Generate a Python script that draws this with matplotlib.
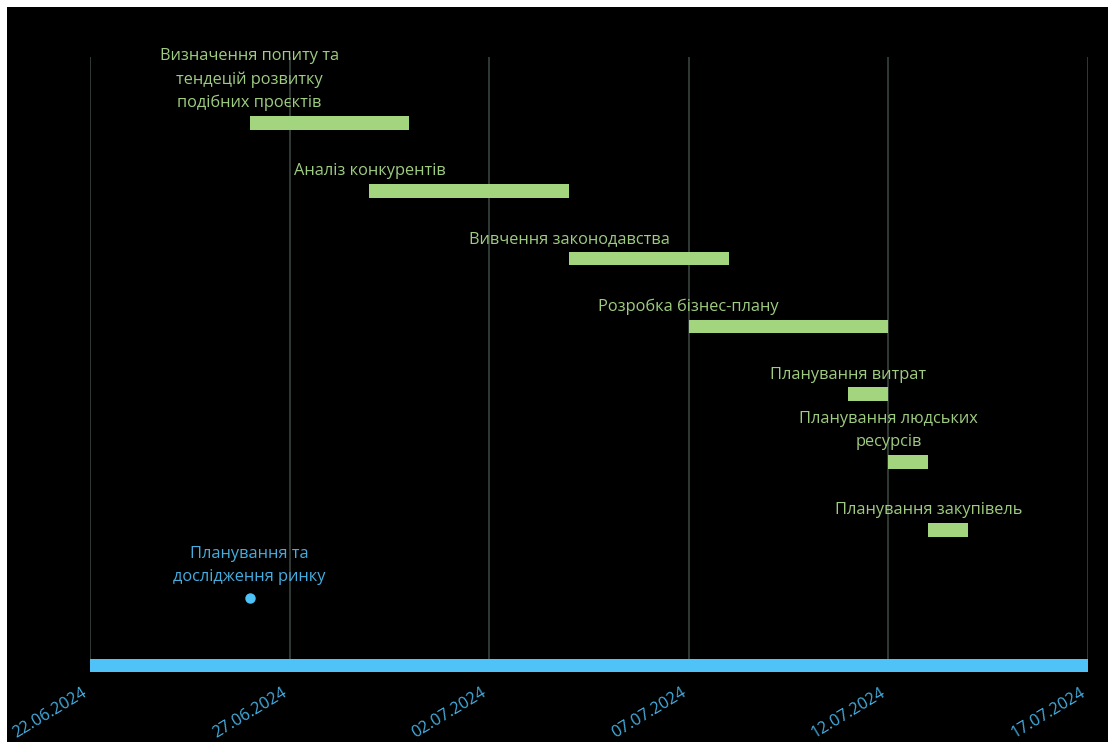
import matplotlib
matplotlib.use("Agg")
import matplotlib.pyplot as plt
import matplotlib.dates as mdates
from matplotlib.patches import Rectangle
from datetime import datetime

# Project schedule
tasks = [
    "Визначення попиту та\nтендецій розвитку\nподібних проєктів",
    "Аналіз конкурентів",
    "Вивчення законодавства",
    "Розробка бізнес-плану",
    "Планування витрат",
    "Планування людських\nресурсів",
    "Планування закупівель",
]
task_starts = ["26.06.2024", "29.06.2024", "04.07.2024", "07.07.2024",
               "11.07.2024", "12.07.2024", "13.07.2024"]
task_ends = ["30.06.2024", "04.07.2024", "08.07.2024", "12.07.2024",
             "12.07.2024", "13.07.2024", "14.07.2024"]

milestone_label = "Планування та\nдослідження ринку"
milestone_date = "26.06.2024"

timeline_start = "22.06.2024"
timeline_end = "17.07.2024"
tick_labels = ["22.06.2024", "27.06.2024", "02.07.2024",
               "07.07.2024", "12.07.2024", "17.07.2024"]

GREEN = "#A3D57F"
GREEN_TEXT = "#9FCC80"
BLUE = "#4FC3F7"
BLUE_TEXT = "#45ADE0"
GRID = "#3B4B42"
FONT = ["Open Sans", "DejaVu Sans"]
FS = 11.8


def d(s):
    return datetime.strptime(s, "%d.%m.%Y")


W, H = 1108, 742
fig = plt.figure(figsize=(W / 100, H / 100), dpi=100, facecolor="white")
fig.patches.append(Rectangle((7 / W, 0), 1, 1 - 7 / H, transform=fig.transFigure,
                             facecolor="black", edgecolor="none", zorder=-10))

ax = fig.add_axes([90 / W, (H - 672) / H, (1088 - 90) / W, (672 - 57) / H])
ax.set_facecolor("black")
for s in ax.spines.values():
    s.set_visible(False)

x0, x1 = mdates.date2num(d(timeline_start)), mdates.date2num(d(timeline_end))
ax.set_xlim(x0, x1)
ax.set_ylim(8.097, -0.973)

# vertical grid at the labelled dates
ticks = [mdates.date2num(d(t)) for t in tick_labels]
for t in ticks:
    ax.axvline(t, color=GRID, lw=1.1, zorder=0)

# task bars with labels above their start
bar_h = 0.2
for i, (name, s, e) in enumerate(zip(tasks, task_starts, task_ends)):
    xs, xe = mdates.date2num(d(s)), mdates.date2num(d(e))
    ax.barh(i, xe - xs, left=xs, height=bar_h, color=GREEN, zorder=2)
    ax.annotate(name, (xs, i - bar_h / 2), xytext=(0, 3.5), textcoords="offset points",
                ha="center", va="bottom", color=GREEN_TEXT, fontsize=FS,
                family=FONT, linespacing=1.58, annotation_clip=False)

# milestone
mrow = len(tasks)
mx = mdates.date2num(d(milestone_date))
ax.plot([mx], [mrow], "o", color=BLUE, ms=6.5, zorder=3)
ax.annotate(milestone_label, (mx, mrow), xytext=(0, 9), textcoords="offset points",
            ha="center", va="bottom", color=BLUE_TEXT, fontsize=FS,
            family=FONT, linespacing=1.58, annotation_clip=False)

# timeline band
ax.barh(mrow + 1, x1 - x0, left=x0, height=0.19, color=BLUE, zorder=2)

ax.set_yticks([])
ax.set_xticks(ticks)
ax.set_xticklabels(tick_labels, rotation=31, ha="right", va="top",
                   color=BLUE_TEXT, fontsize=FS, family=FONT)
ax.tick_params(axis="x", length=0, pad=9)
for lbl in ax.get_xticklabels():
    lbl.set_x(lbl.get_position()[0])

fig.savefig("out.png", dpi=100, facecolor=fig.get_facecolor())
